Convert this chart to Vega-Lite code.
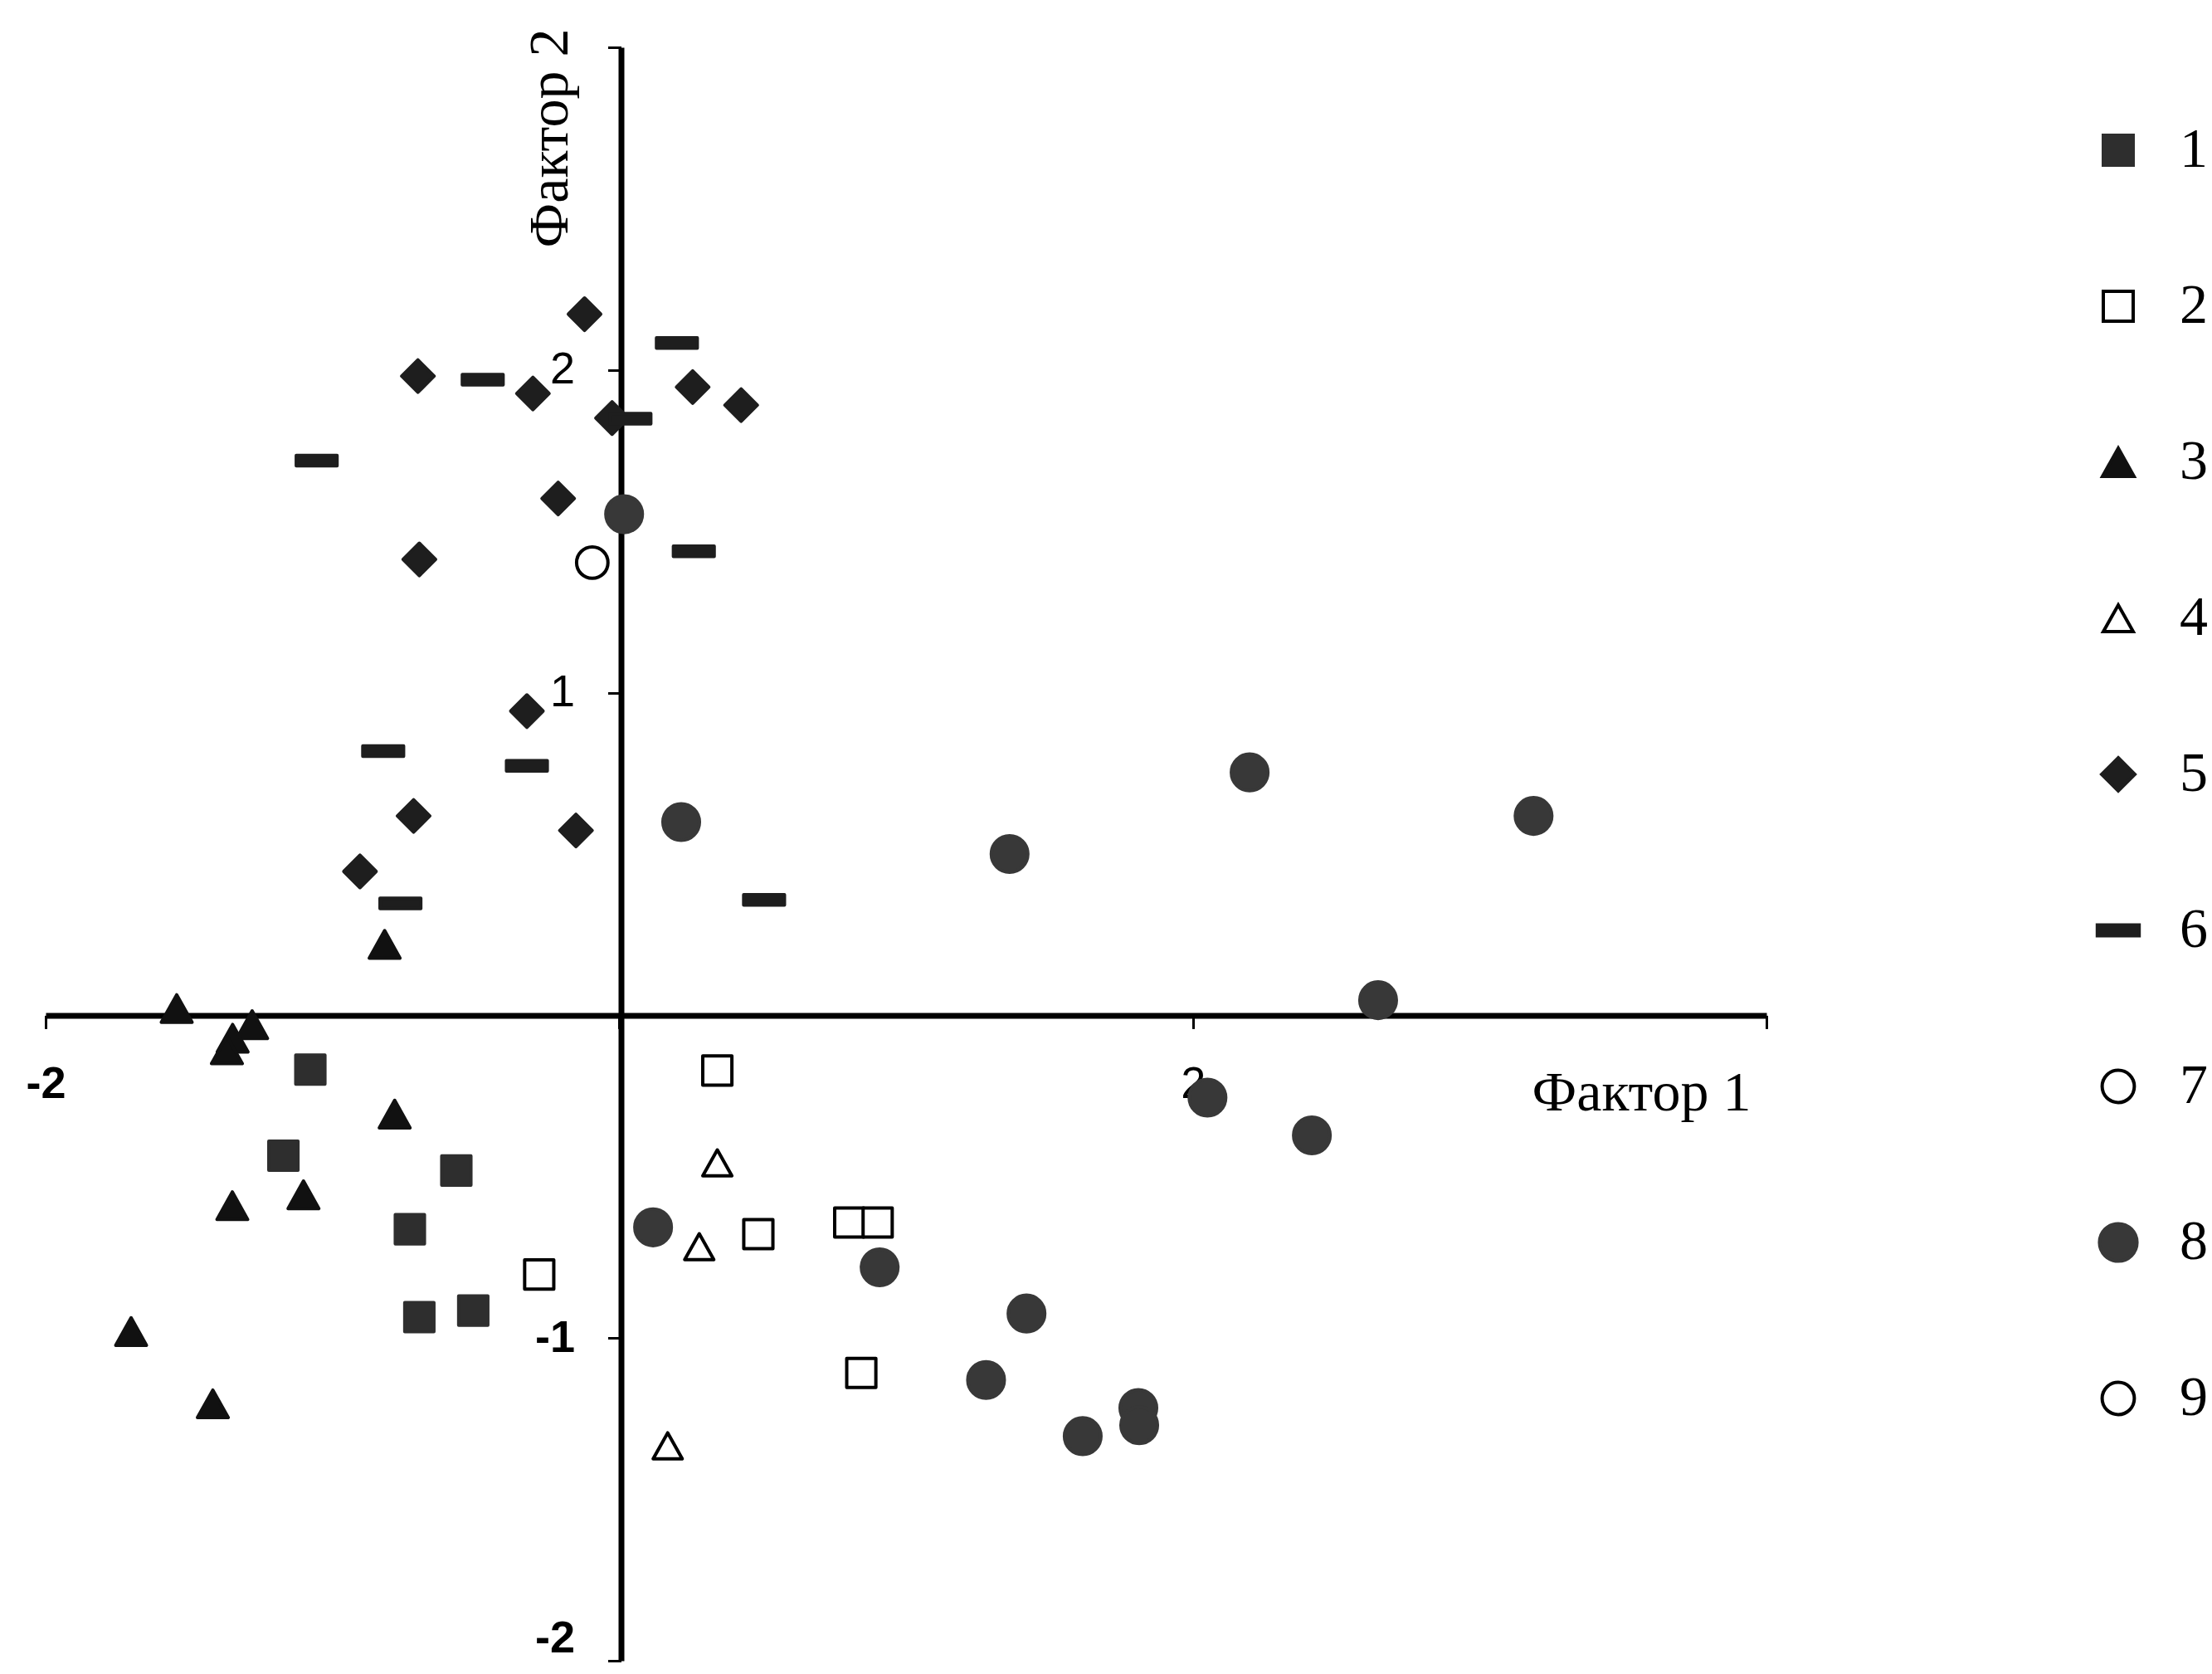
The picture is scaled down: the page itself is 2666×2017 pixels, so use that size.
{
  "$schema": "https://vega.github.io/schema/vega-lite/v6.json",
  "width": 2074,
  "height": 1944,
  "autosize": {"type": "none"},
  "padding": {"left": 55, "top": 57, "right": 537, "bottom": 16},
  "background": "white",
  "config": {"view": {"stroke": null}, "axis": {"grid": false}},
  "data": {"values": [
    {"g": "1", "f1": -1.077, "f2": -0.168},
    {"g": "1", "f1": -1.171, "f2": -0.435},
    {"g": "1", "f1": -0.568, "f2": -0.481},
    {"g": "1", "f1": -0.730, "f2": -0.663},
    {"g": "1", "f1": -0.697, "f2": -0.935},
    {"g": "1", "f1": -0.509, "f2": -0.915},
    {"g": "2", "f1": 0.342, "f2": -0.171},
    {"g": "2", "f1": 0.485, "f2": -0.678},
    {"g": "2", "f1": 0.802, "f2": -0.642},
    {"g": "2", "f1": 0.901, "f2": -0.642},
    {"g": "2", "f1": 0.844, "f2": -1.108},
    {"g": "2", "f1": -0.279, "f2": -0.803},
    {"g": "3", "f1": -1.543, "f2": 0.021},
    {"g": "3", "f1": -1.280, "f2": -0.029},
    {"g": "3", "f1": -1.348, "f2": -0.071},
    {"g": "3", "f1": -1.368, "f2": -0.107},
    {"g": "3", "f1": -0.783, "f2": -0.306},
    {"g": "3", "f1": -1.349, "f2": -0.590},
    {"g": "3", "f1": -1.101, "f2": -0.556},
    {"g": "3", "f1": -1.702, "f2": -0.980},
    {"g": "3", "f1": -1.417, "f2": -1.204},
    {"g": "3", "f1": -0.818, "f2": 0.220},
    {"g": "4", "f1": 0.342, "f2": -0.457},
    {"g": "4", "f1": 0.279, "f2": -0.717},
    {"g": "4", "f1": 0.169, "f2": -1.334},
    {"g": "5", "f1": -0.121, "f2": 2.173},
    {"g": "5", "f1": -0.702, "f2": 1.981},
    {"g": "5", "f1": -0.301, "f2": 1.927},
    {"g": "5", "f1": -0.025, "f2": 1.851},
    {"g": "5", "f1": 0.256, "f2": 1.947},
    {"g": "5", "f1": 0.425, "f2": 1.891},
    {"g": "5", "f1": -0.213, "f2": 1.602},
    {"g": "5", "f1": -0.697, "f2": 1.413},
    {"g": "5", "f1": -0.322, "f2": 0.943},
    {"g": "5", "f1": -0.717, "f2": 0.618},
    {"g": "5", "f1": -0.151, "f2": 0.573},
    {"g": "5", "f1": -0.904, "f2": 0.446},
    {"g": "6", "f1": 0.201, "f2": 2.084},
    {"g": "6", "f1": -0.476, "f2": 1.970},
    {"g": "6", "f1": 0.039, "f2": 1.849},
    {"g": "6", "f1": -1.055, "f2": 1.719},
    {"g": "6", "f1": 0.260, "f2": 1.438},
    {"g": "6", "f1": -0.823, "f2": 0.819},
    {"g": "6", "f1": -0.322, "f2": 0.773},
    {"g": "6", "f1": -0.763, "f2": 0.347},
    {"g": "6", "f1": 0.505, "f2": 0.358},
    {"g": "7", "f1": -0.094, "f2": 1.403},
    {"g": "8", "f1": 0.017, "f2": 1.553},
    {"g": "8", "f1": 0.216, "f2": 0.599},
    {"g": "8", "f1": 1.361, "f2": 0.500},
    {"g": "8", "f1": 2.198, "f2": 0.753},
    {"g": "8", "f1": 3.188, "f2": 0.618},
    {"g": "8", "f1": 2.646, "f2": 0.047},
    {"g": "8", "f1": 2.051, "f2": -0.255},
    {"g": "8", "f1": 2.415, "f2": -0.372},
    {"g": "8", "f1": 0.118, "f2": -0.657},
    {"g": "8", "f1": 0.908, "f2": -0.781},
    {"g": "8", "f1": 1.420, "f2": -0.924},
    {"g": "8", "f1": 1.279, "f2": -1.130},
    {"g": "8", "f1": 1.616, "f2": -1.304},
    {"g": "8", "f1": 1.810, "f2": -1.217},
    {"g": "8", "f1": 1.813, "f2": -1.270}
  ]},
  "mark": {"type": "point", "opacity": 1, "strokeWidth": 4, "strokeJoin": "round", "size": 1521},
  "encoding": {
    "x": {
      "field": "f1", "type": "quantitative",
      "scale": {"domain": [-2, 4], "nice": false, "zero": false},
      "axis": {
        "orient": "bottom", "offset": -777.6,
        "values": [-2, 0, 2, 4],
        "labelExpr": "datum.value == -2 ? '-2' : (datum.value == 2 ? '2' : '')",
        "domainColor": "black", "domainWidth": 7,
        "tickColor": "black", "tickWidth": 3, "tickSize": 16,
        "labelFont": "Liberation Sans", "labelFontSize": 54, "labelColor": "black",
        "labelFontWeight": {"condition": {"test": "datum.value == -2", "value": "bold"}, "value": "normal"},
        "labelPadding": 40, "labelFlush": false, "labelOverlap": false,
        "title": "Фактор 1", "titleFont": "Liberation Serif", "titleFontSize": 68,
        "titleFontWeight": "normal", "titleColor": "black",
        "titleX": 1923, "titleY": 114, "titleAlign": "center", "titleBaseline": "alphabetic"
      }
    },
    "y": {
      "field": "f2", "type": "quantitative",
      "scale": {"domain": [-2, 3], "nice": false, "zero": false},
      "axis": {
        "orient": "left", "offset": -693.5,
        "values": [-2, -1, 0, 1, 2, 3],
        "labelExpr": "datum.value == 0 || datum.value == 3 ? '' : (datum.value < 0 ? '-' + abs(datum.value) : '' + datum.value)",
        "domainColor": "black", "domainWidth": 7,
        "tickColor": "black", "tickWidth": 3, "tickSize": 16,
        "labelFont": "Liberation Sans", "labelFontSize": 54, "labelColor": "black",
        "labelFontWeight": {"condition": {"test": "datum.value < 0", "value": "bold"}, "value": "normal"},
        "labelBaseline": {"condition": {"test": "datum.value == -2", "value": "bottom"}, "value": "middle"},
        "labelPadding": 40, "labelFlush": false, "labelOverlap": false,
        "title": "Фактор 2", "titleFont": "Liberation Serif", "titleFontSize": 68,
        "titleFontWeight": "normal", "titleColor": "black",
        "titleX": -65, "titleY": 109, "titleAngle": -90, "titleAlign": "center", "titleBaseline": "alphabetic"
      }
    },
    "shape": {
      "field": "g", "type": "nominal",
      "scale": {
        "domain": ["1", "2", "3", "4", "5", "6", "7", "8", "9"],
        "range": [
          "M-0.9,-0.9H0.9V0.9H-0.9Z",
          "M-0.9,-0.9H0.9V0.9H-0.9Z",
          "M0,-0.85L0.95,0.85H-0.95Z",
          "M0,-0.8L0.9,0.8H-0.9Z",
          "M0,-1L1,0L0,1L-1,0Z",
          "M-1.26,-0.32H1.26V0.32H-1.26Z",
          "M0.97,0A0.97,0.97,0,1,1,-0.97,0A0.97,0.97,0,1,1,0.97,0Z",
          "M1.13,0A1.13,1.13,0,1,1,-1.13,0A1.13,1.13,0,1,1,1.13,0Z",
          "M0.97,0A0.97,0.97,0,1,1,-0.97,0A0.97,0.97,0,1,1,0.97,0Z"
        ]
      },
      "legend": {
        "orient": "none", "legendX": 2464, "legendY": 90,
        "title": null,
        "labelFont": "Liberation Serif", "labelFontSize": 68, "labelColor": "black",
        "symbolSize": 1600, "symbolStrokeWidth": 4, "symbolOpacity": 1,
        "rowPadding": 120, "labelOffset": 40
      }
    },
    "fill": {
      "field": "g", "type": "nominal",
      "scale": {
        "domain": ["1", "2", "3", "4", "5", "6", "7", "8", "9"],
        "range": ["#2e2e2e", "white", "#111111", "white", "#1e1e1e", "#1e1e1e", "white", "#383838", "white"]
      },
      "legend": {
        "orient": "none", "legendX": 2464, "legendY": 90,
        "title": null,
        "labelFont": "Liberation Serif", "labelFontSize": 68, "labelColor": "black",
        "symbolSize": 1600, "symbolStrokeWidth": 4, "symbolOpacity": 1,
        "rowPadding": 120, "labelOffset": 40
      }
    },
    "stroke": {
      "field": "g", "type": "nominal",
      "scale": {
        "domain": ["1", "2", "3", "4", "5", "6", "7", "8", "9"],
        "range": ["#2e2e2e", "black", "#111111", "black", "#1e1e1e", "#1e1e1e", "black", "#383838", "black"]
      },
      "legend": {
        "orient": "none", "legendX": 2464, "legendY": 90,
        "title": null,
        "labelFont": "Liberation Serif", "labelFontSize": 68, "labelColor": "black",
        "symbolSize": 1600, "symbolStrokeWidth": 4, "symbolOpacity": 1,
        "rowPadding": 120, "labelOffset": 40
      }
    }
  }
}
